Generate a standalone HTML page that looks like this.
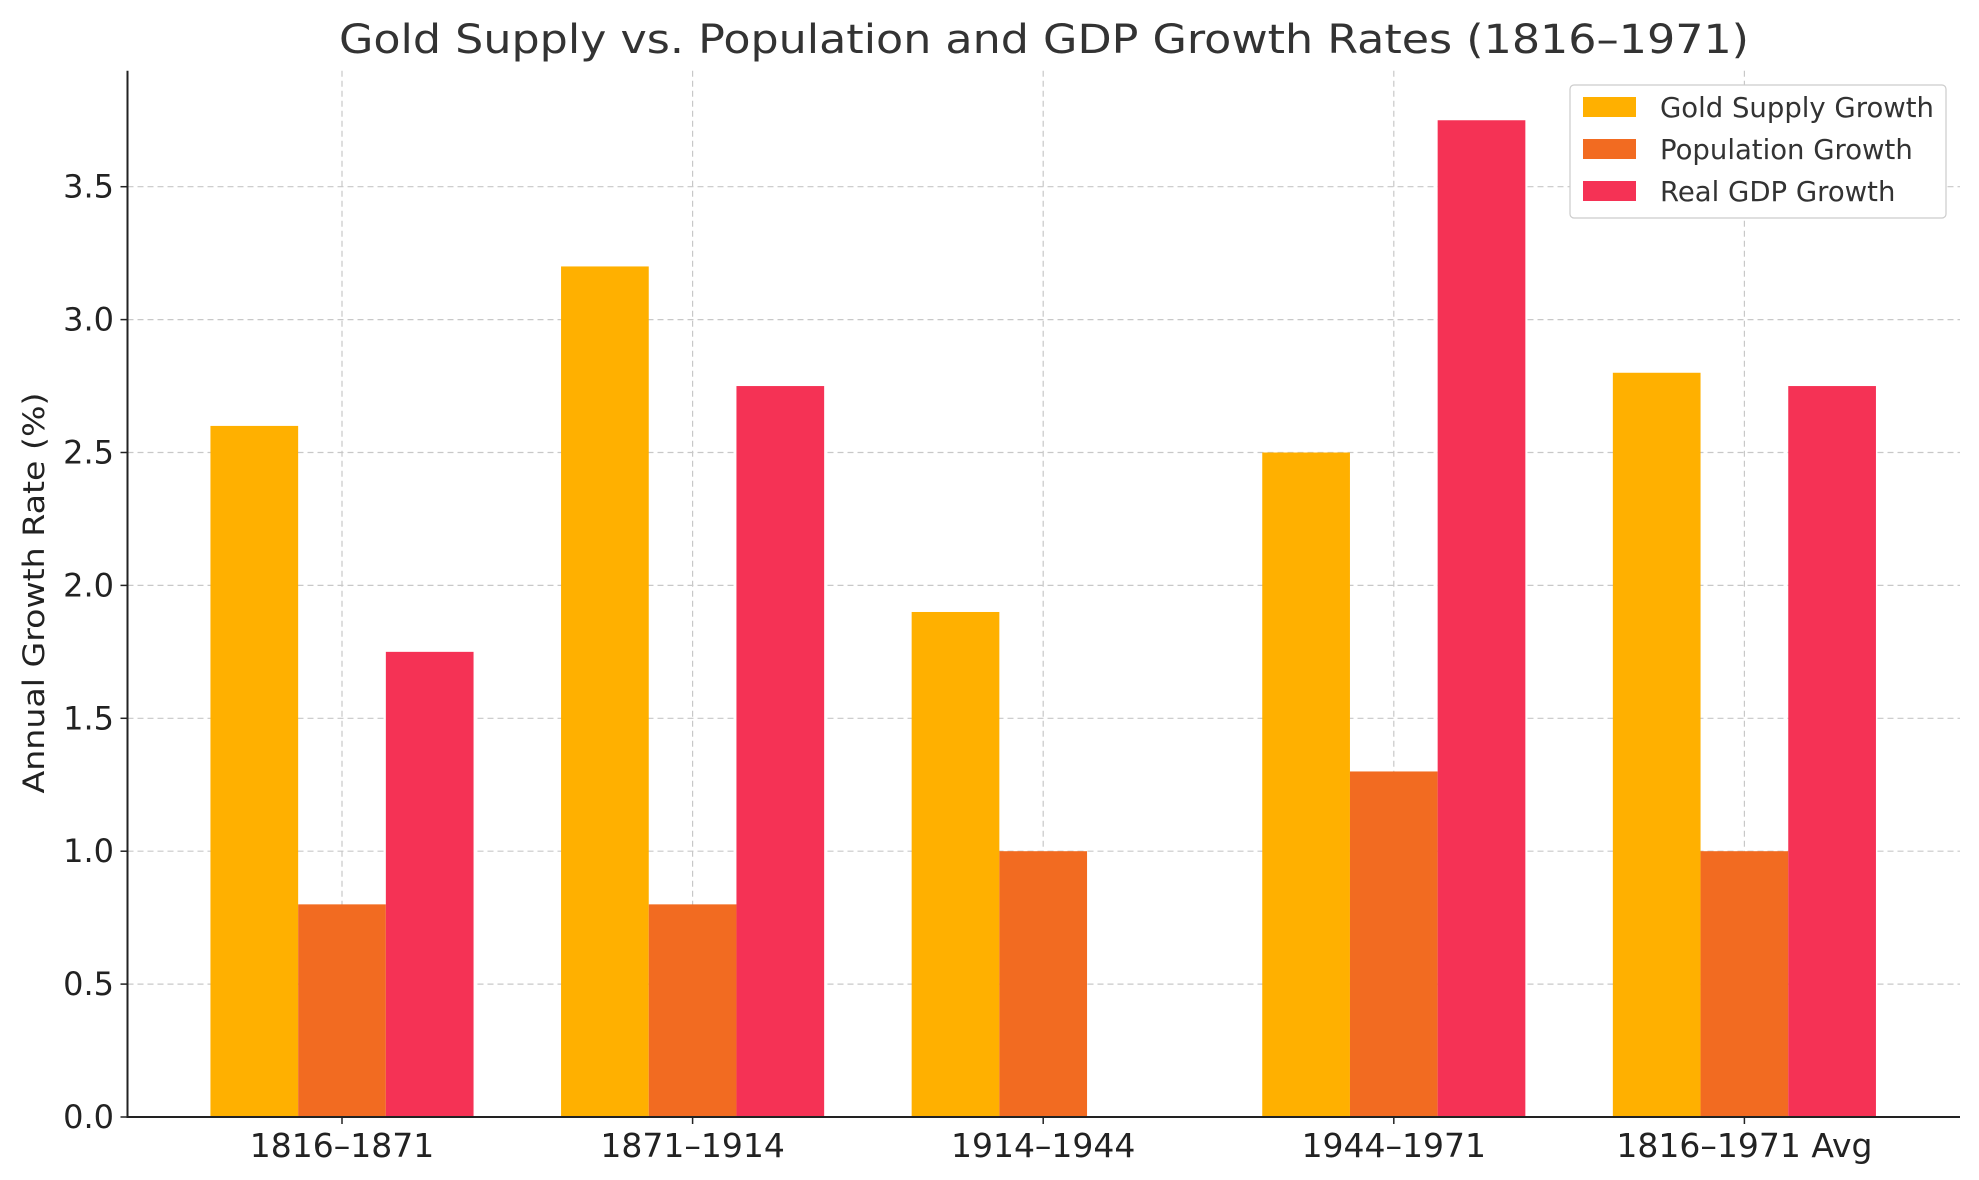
<!DOCTYPE html>
<html><head><meta charset="utf-8"><style>
body{margin:0;background:#fff;font-family:"DejaVu Sans","Liberation Sans",sans-serif;}
svg{display:block}
</style></head><body>
<svg id="c" width="1979" height="1180" xmlns="http://www.w3.org/2000/svg" font-family="DejaVu Sans, Liberation Sans, sans-serif"></svg>
<script>
const categories=["1816–1871","1871–1914","1914–1944","1944–1971","1816–1971 Avg"];
const goldSupply=[2.6,3.2,1.9,2.5,2.8];
const population=[0.8,0.8,1.0,1.3,1.0];
const realGdp=[1.75,2.75,0,3.75,2.75];
const yTicks=[0,0.5,1,1.5,2,2.5,3,3.5];
const seriesNames=["Gold Supply Growth","Population Growth","Real GDP Growth"];
const colors=["#FFB000","#F26B21","#F53255"];
const L=127.5,R=1960,T=70.7,B=1117;
const y=v=>B-v*265.8;
const cx=i=>342+i*350.6;
const bw=87.7;
const svg=document.getElementById('c');
const NS="http://www.w3.org/2000/svg";
function mk(tag,attrs,parent){const e=document.createElementNS(NS,tag);for(const k in attrs)e.setAttribute(k,attrs[k]);(parent||svg).appendChild(e);return e;}
yTicks.forEach(t=>{const l=mk('line',{x1:L,x2:R,y1:y(t),y2:y(t),stroke:'#c8c8c8','stroke-dasharray':'6,4','stroke-width':1.2});

});
categories.forEach((c,i)=>{const l=mk('line',{x1:cx(i),x2:cx(i),y1:T,y2:B,stroke:'#c8c8c8','stroke-dasharray':'6,4','stroke-width':1.2});

});
[goldSupply,population,realGdp].forEach((arr,s)=>{arr.forEach((v,i)=>{
const x=cx(i)+(s-1)*bw-bw/2;
const r=mk('rect',{x:x,y:y(v),width:bw,height:B-y(v),fill:colors[s]});

});});
const ax=mk('path',{d:`M${L},${T}V${B}H${R}`,fill:'none',stroke:'#222','stroke-width':2});


yTicks.forEach(t=>{mk('line',{x1:L-7,x2:L,y1:y(t),y2:y(t),stroke:'#222','stroke-width':1.5});
const tx=mk('text',{x:114,y:y(t)+11,'text-anchor':'end','font-size':32,fill:'#222'});tx.textContent=t.toFixed(1);

});
categories.forEach((c,i)=>{mk('line',{x1:cx(i),x2:cx(i),y1:B,y2:B+7,stroke:'#222','stroke-width':1.5});
const tx=mk('text',{x:cx(i),y:1157,'text-anchor':'middle','font-size':33,fill:'#222'});tx.textContent=c;

});
const yl=mk('text',{x:0,y:0,transform:'translate(44,593) rotate(-90)','text-anchor':'middle','font-size':29,fill:'#222',textLength:401,lengthAdjust:'spacingAndGlyphs'});yl.textContent='Annual Growth Rate (%)';


const ti=mk('text',{x:1044,y:53,'text-anchor':'middle','font-size':40,fill:'#333',textLength:1410,lengthAdjust:'spacingAndGlyphs'});ti.textContent='Gold Supply vs. Population and GDP Growth Rates (1816–1971)';


const lg=mk('g',{});


mk('rect',{x:1570,y:85,width:376,height:133,rx:4,fill:'#fff',stroke:'#ccc','stroke-width':1.2},lg);
seriesNames.forEach((n,s)=>{const g=mk('g',{},lg);


mk('rect',{x:1583,y:97+s*42,width:53,height:20,fill:colors[s]},g);
const t=mk('text',{x:1660,y:117+s*42,'font-size':27.5,fill:'#333'},g);t.textContent=n;});
</script>
</body></html>
